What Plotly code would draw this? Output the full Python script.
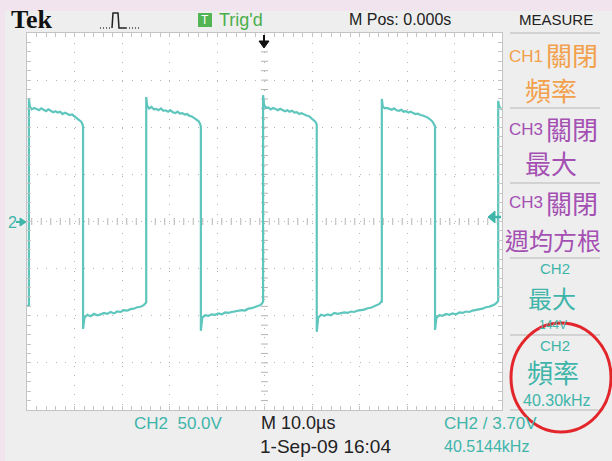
import plotly.graph_objects as go
import numpy as np

# ---------------- data (time in µs, CH2 in volts) ----------------
cycle_a = [(-50.0, -90), (-49.6, -89), (-49.6, 130), (-49.4, 122), (-49.0, 119), (-48.5, 120.5),
           (-48.0, 119.5), (-47.5, 118), (-47.0, 120), (-46.5, 118.5), (-46.0, 117), (-45.5, 119),
           (-45.0, 117.5), (-44.5, 116), (-44.0, 117), (-43.5, 115.5), (-43.0, 116.5), (-42.5, 114),
           (-42.0, 115.5), (-41.5, 114.5), (-41.0, 113), (-40.5, 113.5), (-40.0, 111.5), (-39.5, 110),
           (-39.0, 108.5), (-38.6, 106), (-38.3, 103), (-38.2, 100), (-38.2, -114), (-37.9, -102),
           (-37.3, -99), (-36.6, -100.5), (-35.9, -98), (-35.2, -99.5), (-34.5, -98.5), (-33.8, -97),
           (-33.1, -98), (-32.4, -96), (-31.7, -97.5), (-31.0, -95.5), (-30.3, -96), (-29.6, -94),
           (-28.9, -94.5), (-28.2, -93), (-27.5, -92.5), (-26.8, -91), (-26.1, -90.5), (-25.5, -89),
           (-25.1, -87)]
cycle_b = [(-24.9, -86), (-24.9, 132), (-24.7, 123), (-24.3, 120), (-23.8, 121.5), (-23.3, 119),
           (-22.8, 119.5), (-22.3, 118), (-21.8, 120), (-21.3, 117.5), (-20.8, 118), (-20.3, 116.5),
           (-19.8, 118), (-19.3, 116), (-18.8, 115), (-18.3, 116.5), (-17.8, 114.5), (-17.3, 115),
           (-16.8, 113.5), (-16.3, 114), (-15.8, 112), (-15.3, 111.5), (-14.8, 110), (-14.3, 108.5),
           (-13.9, 106.5), (-13.6, 104), (-13.4, 101), (-13.4, -116), (-13.1, -102), (-12.5, -99.5),
           (-11.8, -100), (-11.1, -98.5), (-10.4, -99), (-9.7, -97.5), (-9.0, -98.5), (-8.3, -96.5),
           (-7.6, -97), (-6.9, -96), (-6.2, -95.5), (-5.5, -95), (-4.8, -94), (-4.1, -94.5),
           (-3.4, -92.5), (-2.7, -92), (-2.0, -91), (-1.4, -89.5), (-0.8, -88.5), (-0.4, -86)]
cycle_c = [(-0.3, -85), (-0.3, 134), (-0.1, 124), (0.3, 120.5), (0.8, 121), (1.3, 119), (1.8, 120.5),
           (2.3, 119.5), (2.8, 118), (3.3, 119.5), (3.8, 118.5), (4.3, 117), (4.8, 118), (5.3, 116.5),
           (5.8, 117.5), (6.3, 115.5), (6.8, 116), (7.3, 114), (7.8, 115), (8.3, 113.5), (8.8, 112.5),
           (9.3, 112), (9.8, 110), (10.3, 108), (10.7, 106), (11.0, 103), (11.0, -117),
           (11.3, -102), (11.9, -99), (12.6, -100), (13.3, -98.5), (14.0, -99.5), (14.7, -97),
           (15.4, -98), (16.1, -97.5), (16.8, -96.5), (17.5, -97), (18.2, -95.5), (18.9, -96),
           (19.6, -94.5), (20.3, -94), (21.0, -93.5), (21.7, -92), (22.4, -91.5), (23.1, -90),
           (23.7, -89), (24.2, -87.5), (24.6, -85)]
cycle_d = [(24.7, -85), (24.7, 130), (24.9, 122), (25.3, 120), (25.8, 120.5), (26.3, 119.5),
           (26.8, 118.5), (27.3, 120), (27.8, 118), (28.3, 117.5), (28.8, 118.5), (29.3, 116.5),
           (29.8, 117), (30.3, 115.5), (30.8, 116.5), (31.3, 115), (31.8, 114), (32.3, 114.5),
           (32.8, 113), (33.3, 112.5), (33.8, 111.5), (34.3, 110.5), (34.8, 108.5), (35.3, 106.5),
           (35.6, 104), (35.9, 101), (35.9, -115), (36.2, -102), (36.8, -99.5), (37.5, -100),
           (38.2, -98), (38.9, -99), (39.6, -97.5), (40.3, -98.5), (41.0, -96.5), (41.7, -97),
           (42.4, -95.5), (43.1, -96), (43.8, -94.5), (44.5, -94), (45.2, -93), (45.9, -92.5),
           (46.6, -91), (47.3, -90.5), (48.0, -89), (48.6, -87.5), (49.1, -85)]
tail = [(49.2, -84), (49.2, 128), (49.4, 122), (49.7, 120), (50.0, 119)]

time_range = [-50, 50]      # 10 µs/div, 10 divisions
volt_range = [-200, 200]    # 50 V/div, 8 divisions

top_labels = ["Tek", "Trig'd", "M Pos: 0.000s", "MEASURE"]
bottom_labels = ["CH2  50.0V", "M 10.0\u00b5s", "CH2 / 3.70V", "1-Sep-09 16:04", "40.5144kHz"]

# ---------------- colours / fonts ----------------
TEAL = "#5ec6bd"
TEAL_TXT = "#3fb5aa"
ORANGE = "#f2a04c"
PURPLE = "#a450b3"
GREEN = "#4aae4a"
SANS = "Liberation Sans, Arial, sans-serif"
CJK = "Noto Sans CJK TC, Noto Sans CJK SC, sans-serif"

W, H = 612, 461
L, R, T, B = 27, 502, 33, 410


def px(x):
    return (x - L) / (R - L)


def py(y):
    return (B - y) / (B - T)


wave = cycle_a + cycle_b + cycle_c + cycle_d + tail
t_us = [p[0] for p in wave]
ch2_v = [p[1] for p in wave]

fig = go.Figure()

# graticule centre-line ticks
cx = np.arange(-49, 50, 2)
fig.add_trace(go.Scatter(x=cx, y=[0] * len(cx), mode="markers", hoverinfo="skip",
                         marker=dict(symbol="line-ns", size=5, line=dict(width=1, color="#b4b4b4"))))
cy = np.arange(-190, 200, 10)
fig.add_trace(go.Scatter(x=[0] * len(cy), y=cy, mode="markers", hoverinfo="skip",
                         marker=dict(symbol="line-ew", size=5, line=dict(width=1, color="#b4b4b4"))))

fig.add_trace(go.Scatter(x=t_us, y=ch2_v, mode="lines", hoverinfo="skip",
                         line=dict(color=TEAL, width=2.2)))

axis_common = dict(showgrid=True, gridcolor="#b4b4b4", gridwidth=1, griddash="1px,8.5px",
                   zeroline=False, showline=True, linecolor="#c4c4c4", linewidth=1,
                   mirror="allticks", ticks="inside", ticklen=4, tickcolor="#c4c4c4",
                   showticklabels=False, fixedrange=True)
fig.update_xaxes(range=time_range, dtick=10,
                 minor=dict(dtick=2, ticks="inside", ticklen=4, tickcolor="#c4c4c4", showgrid=False),
                 **axis_common)
fig.update_yaxes(range=volt_range, dtick=50,
                 minor=dict(dtick=10, ticks="inside", ticklen=4, tickcolor="#c4c4c4", showgrid=False),
                 **axis_common)

shapes = []
# pink outer strips
shapes.append(dict(type="rect", xref="paper", yref="paper", x0=px(0), x1=px(W), y0=py(11), y1=py(0),
                   fillcolor="#f1e4ee", line=dict(width=0), layer="below"))
shapes.append(dict(type="rect", xref="paper", yref="paper", x0=px(0), x1=px(5), y0=py(H), y1=py(0),
                   fillcolor="#f1e4ee", line=dict(width=0), layer="below"))
# measure separators
for yy in [33, 108, 183, 258, 335, 410]:
    shapes.append(dict(type="line", xref="paper", yref="paper", x0=px(510), x1=px(600),
                       y0=py(yy), y1=py(yy), line=dict(color="#c8c8c8", width=1.5)))
# green T box
shapes.append(dict(type="rect", xref="paper", yref="paper", x0=px(198), x1=px(212), y0=py(27), y1=py(13),
                   fillcolor="#52b452", line=dict(width=0)))
# pulse icon
shapes.append(dict(type="path", xref="paper", yref="paper",
                   path=f"M{px(112)},{py(28)} L{px(113)},{py(13)} L{px(118)},{py(13)} L{px(119)},{py(28)} L{px(126)},{py(28)}",
                   line=dict(color="#222222", width=1.5)))
shapes.append(dict(type="line", xref="paper", yref="paper", x0=px(100), x1=px(112), y0=py(28), y1=py(28),
                   line=dict(color="#444444", width=1.5, dash="1px,2px")))
shapes.append(dict(type="line", xref="paper", yref="paper", x0=px(126), x1=px(139), y0=py(28), y1=py(28),
                   line=dict(color="#444444", width=1.5, dash="1px,2px")))
# trigger position arrow
shapes.append(dict(type="line", xref="paper", yref="paper", x0=px(264), x1=px(264), y0=py(35), y1=py(42),
                   line=dict(color="#111111", width=2)))
shapes.append(dict(type="path", xref="paper", yref="paper",
                   path=f"M{px(259)},{py(41)} L{px(269)},{py(41)} L{px(264)},{py(48)} Z",
                   fillcolor="#111111", line=dict(color="#111111", width=1)))
# channel-2 ground marker arrow (left)
shapes.append(dict(type="line", xref="paper", yref="paper", x0=px(16), x1=px(21), y0=py(222), y1=py(222),
                   line=dict(color=TEAL_TXT, width=2)))
shapes.append(dict(type="path", xref="paper", yref="paper",
                   path=f"M{px(20)},{py(218)} L{px(26)},{py(222)} L{px(20)},{py(226)} Z",
                   fillcolor=TEAL_TXT, line=dict(color=TEAL_TXT, width=1)))
# trigger level marker arrow (right)
shapes.append(dict(type="path", xref="paper", yref="paper",
                   path=f"M{px(488)},{py(217)} L{px(495)},{py(211)} L{px(495)},{py(223)} Z",
                   fillcolor=TEAL_TXT, line=dict(color=TEAL_TXT, width=1)))
shapes.append(dict(type="line", xref="paper", yref="paper", x0=px(494), x1=px(501), y0=py(217), y1=py(217),
                   line=dict(color=TEAL_TXT, width=2.5)))
# red circle
shapes.append(dict(type="circle", xref="paper", yref="paper", x0=px(511), x1=px(611), y0=py(432), y1=py(323),
                   line=dict(color="#e3262b", width=3)))

ann = []


def txt(s, x, y, size, color, family=SANS, xanchor="left", bold=False):
    ann.append(dict(text=f"<b>{s}</b>" if bold else s, x=px(x), y=py(y), xref="paper", yref="paper",
                    showarrow=False, xanchor=xanchor, yanchor="middle",
                    font=dict(size=size, color=color, family=family)))


# top bar
txt(top_labels[0], 9, 20, 26, "#111111", family="Liberation Serif, DejaVu Serif, serif", bold=True)
txt("T", 205, 20, 12, "white", xanchor="center")
txt(top_labels[1], 217, 20, 18, GREEN)
txt(top_labels[2], 400, 20, 16, "#222222", xanchor="center")
txt(top_labels[3], 556, 20, 15, "#222222", xanchor="center")

# measure panel
txt("CH1", 507, 56, 17, ORANGE)
txt("關閉", 544, 55, 26, ORANGE, family=CJK)
txt("頻率", 551, 90, 26, ORANGE, family=CJK, xanchor="center")
txt("CH3", 507, 129, 17, PURPLE)
txt("關閉", 544, 128, 26, PURPLE, family=CJK)
txt("最大", 551, 162, 26, PURPLE, family=CJK, xanchor="center")
txt("CH3", 507, 203, 17, PURPLE)
txt("關閉", 544, 202, 26, PURPLE, family=CJK)
txt("週均方根", 553, 239, 24, PURPLE, family=CJK, xanchor="center")
txt("CH2", 555, 268, 15, TEAL_TXT, xanchor="center")
txt("最大", 552, 297, 24, TEAL_TXT, family=CJK, xanchor="center")
txt("144V", 553, 325, 12, TEAL_TXT, xanchor="center")
txt("CH2", 555, 345, 15, TEAL_TXT, xanchor="center")
txt("頻率", 553, 371, 26, TEAL_TXT, family=CJK, xanchor="center")
txt("40.30kHz", 557, 400, 16, TEAL_TXT, xanchor="center")

# bottom bar
txt(bottom_labels[0], 132, 423, 17, TEAL_TXT)
txt(bottom_labels[1], 259, 423, 18, "#222222")
txt(bottom_labels[2], 442, 423, 17, TEAL_TXT)
txt(bottom_labels[3], 258, 446, 19, "#222222")
txt(bottom_labels[4], 442, 446, 16, TEAL_TXT)

# channel marker label
txt("2", 6, 222, 16, TEAL_TXT)

fig.update_layout(width=W, height=H, margin=dict(l=L, r=W - R, t=T, b=H - B),
                  paper_bgcolor="#eeeeee", plot_bgcolor="white", showlegend=False,
                  shapes=shapes, annotations=ann)

fig.write_html("out.html", config={"displayModeBar": False},
               post_script="document.body.style.margin='0px';document.body.style.padding='0px';")
